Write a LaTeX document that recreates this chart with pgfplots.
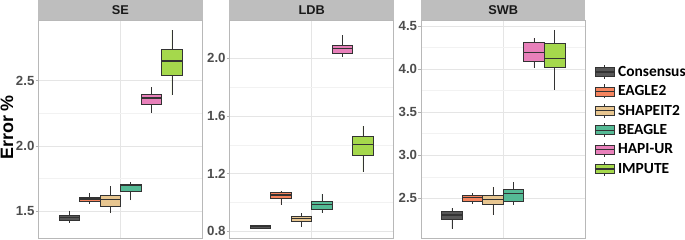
\documentclass[border=0pt]{standalone}
\usepackage{pgfplots}
\pgfplotsset{compat=1.18}
\usepgfplotslibrary{statistics}
\usepackage{fontspec}
\setmainfont{Liberation Sans}
\newfontfamily\carlito{Carlito}
\definecolor{cCons}{HTML}{575757}
\definecolor{cEag}{HTML}{F5845E}
\definecolor{cSha}{HTML}{E8C690}
\definecolor{cBea}{HTML}{55BA95}
\definecolor{cHap}{HTML}{E880BA}
\definecolor{cImp}{HTML}{A5D84C}
\definecolor{cOut}{HTML}{333333}
\definecolor{cStrip}{HTML}{BEBEBE}
\definecolor{cBorder}{HTML}{B8B8B8}
\definecolor{cTick}{HTML}{4D4D4D}
\newcommand\ticfont{\fontsize{13.3}{14}\selectfont\bfseries}
\newcommand\stripfont{\fontsize{12.8}{14}\selectfont\bfseries}
\newcommand\legfont{\carlito\fontsize{15.5}{16}\selectfont\bfseries}
\newcommand\bx[7]{\addplot[forget plot, boxplot prepared={draw direction=y, draw position=#1, lower whisker=#2, lower quartile=#3, median=#4, upper quartile=#5, upper whisker=#6, box extend=1, whisker extend=0}, fill=#7, draw=cOut, line width=0.5bp] coordinates {};}
\pgfplotsset{
  panel/.style={
    scale only axis, width=164.3bp, height=218bp,
    xmin=-0.5, xmax=7.5, xtick={3.5}, xticklabels={},
    axis line style={draw=cBorder, line width=0.7bp},
    xmajorgrids, ymajorgrids, yminorgrids, minor y tick num=1,
    major grid style={draw=gray!20, line width=0.5bp},
    minor grid style={draw=gray!10, line width=0.35bp},
    tick align=outside, major tick length=2.7bp, minor tick length=0pt,
    ytick pos=left,
    x tick style={draw=none}, y tick style={draw=gray!60, line width=0.5bp},
    yticklabel style={font=\ticfont, text=cTick, inner xsep=1bp,
      /pgf/number format/fixed, /pgf/number format/fixed zerofill, /pgf/number format/precision=1},
    /pgf/number format/assume math mode=true,
    every axis title/.style={at={(0.5,1)}, anchor=south, fill=cStrip, minimum width=164.3bp, minimum height=19.5bp, inner sep=0pt, font=\stripfont, text=black!90},
    boxplot/every median/.style={line width=1.3bp},
  },
  boxleg/.style={legend image code/.code={
    \draw[cOut, line width=0.5bp] (9.5bp,-7bp) -- (9.5bp,7bp);
    \draw[##1, draw=cOut, line width=0.5bp] (0bp,-4.5bp) rectangle (19bp,4.5bp);
    \draw[cOut, line width=1.2bp] (0bp,0bp) -- (19bp,0bp);
    \path (23bp,0bp);
  }},
}
\begin{document}
\begin{tikzpicture}
\useasboundingbox (0,0) rectangle (685bp,240bp);
\begin{axis}[panel, at={(38.3bp,2bp)}, anchor=south west, title={SE},
  ymin=1.296, ymax=2.964, ytick={1.5,2.0,2.5},
  ylabel={Error \%},
  every axis y label/.style={at={(rel axis cs:0,0.507)}, xshift=-31.3bp, rotate=90, anchor=center, font=\fontsize{18}{20}\selectfont\bfseries}]
\bx{1}{1.413}{1.428}{1.451}{1.472}{1.505}{cCons}
\bx{2}{1.556}{1.579}{1.594}{1.609}{1.642}{cEag}
\bx{3}{1.485}{1.538}{1.592}{1.622}{1.694}{cSha}
\bx{4}{1.584}{1.650}{1.699}{1.707}{1.722}{cBea}
\bx{5}{2.254}{2.319}{2.367}{2.395}{2.449}{cHap}
\bx{6}{2.388}{2.545}{2.650}{2.740}{2.887}{cImp}
\end{axis}
\begin{axis}[panel, at={(229.5bp,2bp)}, anchor=south west, title={LDB},
  ymin=0.753, ymax=2.265, ytick={0.8,1.2,1.6,2.0}]
\bx{1}{0.818}{0.823}{0.832}{0.839}{0.842}{cCons}
\bx{2}{0.984}{1.029}{1.052}{1.070}{1.079}{cEag}
\bx{3}{0.832}{0.867}{0.887}{0.906}{0.925}{cSha}
\bx{4}{0.929}{0.955}{0.984}{1.005}{1.059}{cBea}
\bx{5}{2.007}{2.034}{2.066}{2.092}{2.159}{cHap}
\bx{6}{1.211}{1.324}{1.401}{1.456}{1.530}{cImp}
\end{axis}
\begin{axis}[panel, at={(421bp,2bp)}, anchor=south west, title={SWB},
  ymin=2.039, ymax=4.568, ytick={2.5,3.0,3.5,4.0,4.5},
  legend style={at={(1,0.539)}, anchor=west, xshift=9bp, draw=none, fill=none, inner sep=0pt, outer sep=0pt,
    row sep=4.9bp, font=\legfont, nodes={inner sep=0pt, outer sep=0pt}},
  legend cell align=left]
\bx{1}{2.147}{2.252}{2.306}{2.353}{2.384}{cCons}
\bx{2}{2.437}{2.469}{2.507}{2.535}{2.558}{cEag}
\bx{3}{2.310}{2.430}{2.488}{2.538}{2.631}{cSha}
\bx{4}{2.426}{2.465}{2.553}{2.608}{2.686}{cBea}
\bx{5}{4.015}{4.089}{4.189}{4.305}{4.360}{cHap}
\bx{6}{3.756}{4.020}{4.124}{4.298}{4.453}{cImp}
\addlegendimage{boxleg, fill=cCons}
\addlegendentry{Consensus}
\addlegendimage{boxleg, fill=cEag}
\addlegendentry{EAGLE2}
\addlegendimage{boxleg, fill=cSha}
\addlegendentry{SHAPEIT2}
\addlegendimage{boxleg, fill=cBea}
\addlegendentry{BEAGLE}
\addlegendimage{boxleg, fill=cHap}
\addlegendentry{HAPI-UR}
\addlegendimage{boxleg, fill=cImp}
\addlegendentry{IMPUTE}
\end{axis}
\end{tikzpicture}
\end{document}
